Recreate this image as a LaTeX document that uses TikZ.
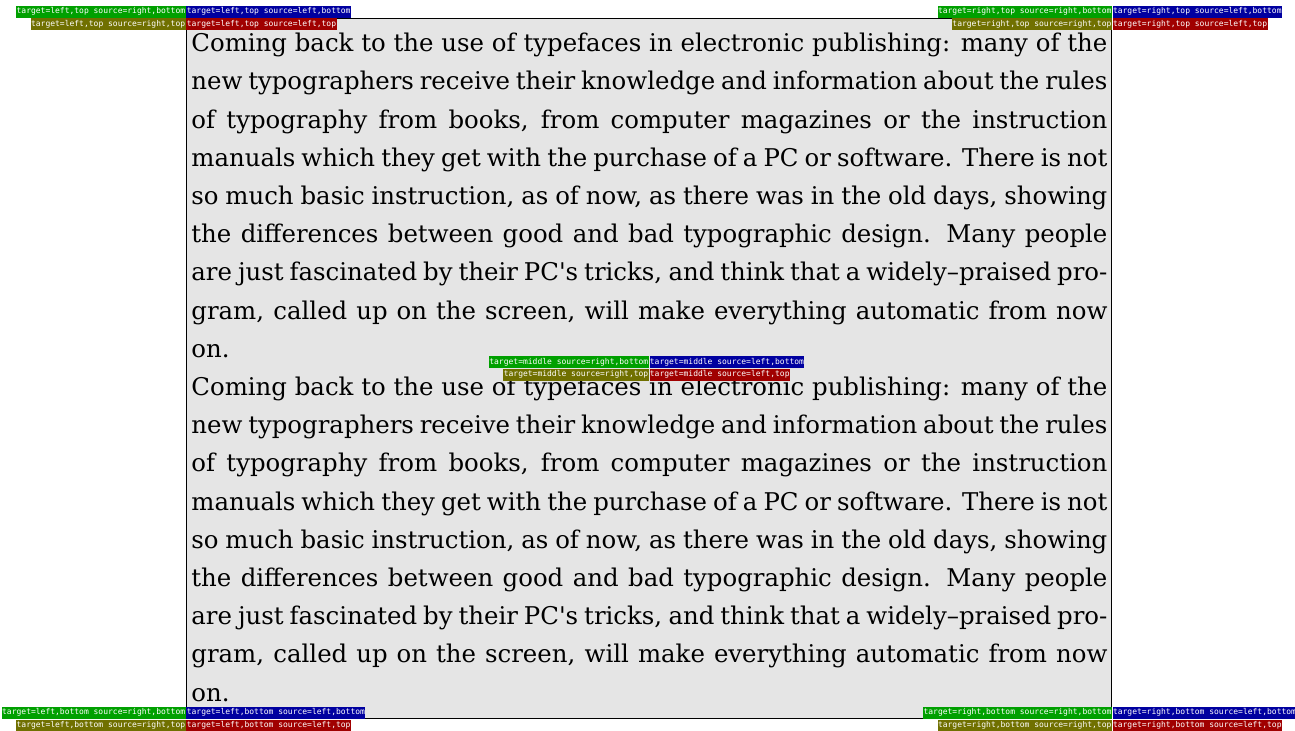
\documentclass[tikz,border=0pt]{standalone}
\usepackage{fontspec}
\newfontfamily\bodyfont{DejaVu Serif}
\newfontfamily\tagfont{DejaVu Sans Mono}
\definecolor{tgreen}{RGB}{0,160,0}
\definecolor{tblue}{RGB}{0,0,160}
\definecolor{tolive}{RGB}{112,112,0}
\definecolor{tred}{RGB}{160,0,0}
\newcommand\jline[1]{\noindent\makebox[\linewidth][s]{#1}\par}
\newcommand\lline[1]{\noindent #1\par}
\newcommand\sampletext{%
  \bodyfont\fontsize{12.2}{19.1}\selectfont\parskip=0pt
  \jline{Coming back to the use of typefaces in electronic publishing: many of the}
  \jline{new typographers receive their knowledge and information about the rules}
  \jline{of typography from books, from computer magazines or the instruction}
  \jline{manuals which they get with the purchase of a PC or software. There is not}
  \jline{so much basic instruction, as of now, as there was in the old days, showing}
  \jline{the differences between good and bad typographic design.  Many people}
  \jline{are just fascinated by their PC's tricks, and think that a widely–praised pro-}
  \jline{gram, called up on the screen, will make everything automatic from now}
  \lline{on.}}
% four tags around one anchor of the box
\newcommand\tagset[3]{%
  \node[tag, fill=tgreen, anchor=south east] (#3g) at (box.#1) {target=#2 source=right,bottom};
  \node[tag, fill=tblue,  anchor=south west] (#3b) at (box.#1) {target=#2 source=left,bottom};
  \node[tag, fill=tolive, anchor=north east] (#3o) at (box.#1) {target=#2 source=right,top};
  \node[tag, fill=tred,   anchor=north west] (#3r) at (box.#1) {target=#2 source=left,top};
}
\begin{document}
\begin{tikzpicture}[x=0.5pt,y=-0.5pt,
  frame/.style={draw=black, line width=0.6pt, fill=gray!20, inner sep=0pt},
  para/.style={anchor=base west, inner sep=0pt},
  tag/.style={font=\tagfont\fontsize{4}{4}\selectfont, text=white, inner xsep=0.2pt,
    inner ysep=1pt, text height=3pt, text depth=1pt}]
\useasboundingbox (0,0) rectangle (1295,731);
\node[frame, minimum width=462.5pt, minimum height=350pt, anchor=north west] (box) at (186,18) {};
\node[para] (p1) at (191,51.7) {\parbox[t]{458pt}{\sampletext}};
\node[para] (p2) at (191,395.5) {\parbox[t]{458pt}{\sampletext}};
\tagset{north west}{left,top}{nw}
\tagset{north east}{right,top}{ne}
\tagset{center}{middle}{c}
\tagset{south west}{left,bottom}{sw}
\tagset{south east}{right,bottom}{se}
\end{tikzpicture}
\end{document}
